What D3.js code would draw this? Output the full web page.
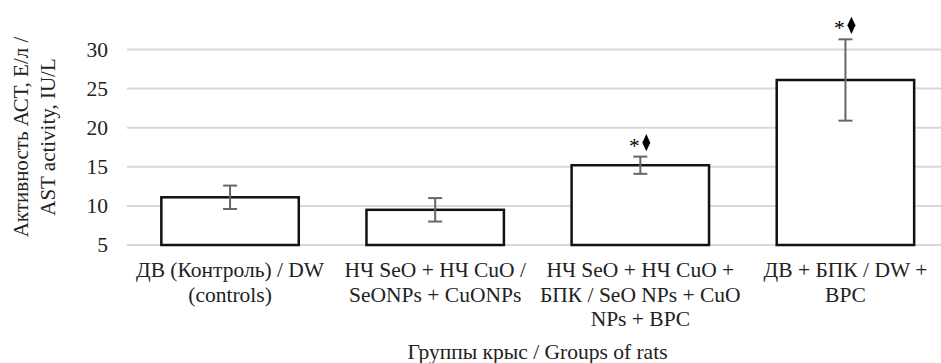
<!DOCTYPE html>
<html>
<head>
<meta charset="utf-8">
<script src="https://cdn.jsdelivr.net/npm/d3@7/dist/d3.min.js"></script>
</head>
<body style="margin:0;background:#fff">
<svg id="chart" width="941" height="363"></svg>
<script>
// groups of rats, mean AST activity and error (+/-)
const groups = ['dw', 'np', 'npbpc', 'bpc'];
const groupLabels = [
  ['ДВ (Контроль) / DW', '(controls)'],
  ['НЧ SeO + НЧ CuO /', 'SeONPs + CuONPs'],
  ['НЧ SeO + НЧ CuO +', 'БПК / SeO NPs + CuO', 'NPs + BPC'],
  ['ДВ + БПК / DW +', 'BPC']
];
const values = [11.1, 9.5, 15.2, 26.1];
const errors = [1.5, 1.5, 1.1, 5.2];
const significant = [false, false, true, true];
const yTicks = [5, 10, 15, 20, 25, 30];

const svg = d3.select('#chart');
const textColor = '#222';

const x = d3.scaleBand().domain(groups).range([127.5, 948]).paddingInner(0.33).paddingOuter(0.165);
const y = d3.scaleLinear().domain([5, 30]).range([245, 49.5]);
const mid = g => x(g) + x.bandwidth() / 2;

function label(sel, size) {
  return sel.attr('font-family', 'Liberation Serif')
      .attr('font-size', size || 21.5)
      .attr('fill', textColor);
}

// gridlines
svg.append('g')
    .selectAll('line')
    .data(yTicks)
    .join('line')
    .attr('x1', 127).attr('x2', 941)
    .attr('y1', d => y(d)).attr('y2', d => y(d))
    .attr('stroke', '#d9d9d9')
    .attr('stroke-width', 2);

// y tick labels
svg.append('g')
    .selectAll('text')
    .data(yTicks)
    .join('text')
    .attr('x', 108)
    .attr('y', d => y(d) + 7)
    .attr('text-anchor', 'end')
    .call(label)
    .text(d => d);

// bars
svg.append('g')
    .selectAll('rect')
    .data(groups)
    .join('rect')
    .attr('x', d => x(d))
    .attr('y', (d, i) => y(values[i]))
    .attr('width', x.bandwidth())
    .attr('height', (d, i) => y(5) - y(values[i]))
    .attr('fill', '#fff')
    .attr('stroke', '#111')
    .attr('stroke-width', 2.5);

// error bars
const err = svg.append('g')
    .attr('stroke', '#666')
    .attr('stroke-width', 2);
groups.forEach((g, i) => {
  const cx = mid(g);
  const hi = y(values[i] + errors[i]), lo = y(values[i] - errors[i]);
  err.append('line').attr('x1', cx).attr('x2', cx).attr('y1', hi).attr('y2', lo);
  err.append('line').attr('x1', cx - 7).attr('x2', cx + 7).attr('y1', hi).attr('y2', hi);
  err.append('line').attr('x1', cx - 7).attr('x2', cx + 7).attr('y1', lo).attr('y2', lo);
});

// significance marks: asterisk + diamond
const sig = svg.append('g');
groups.forEach((g, i) => {
  if (!significant[i]) return;
  const top = y(values[i] + errors[i]) - 14;
  sig.append('text')
      .attr('x', mid(g) - 6)
      .attr('y', top + 10)
      .attr('text-anchor', 'middle')
      .call(label)
      .attr('fill', '#000')
      .text('*');
  sig.append('path')
      .attr('transform', `translate(${mid(g) + 6},${top}) scale(1,1.25)`)
      .attr('d', d3.symbol(d3.symbolDiamond, 55)())
      .attr('fill', '#000');
});

// category labels
const cat = svg.append('g');
groups.forEach((g, i) => {
  const t = cat.append('text')
      .attr('x', mid(g))
      .attr('y', 277)
      .attr('text-anchor', 'middle')
      .call(label);
  groupLabels[i].forEach((line, j) => {
    t.append('tspan').attr('x', mid(g)).attr('dy', j ? 24.5 : 0).text(line);
  });
});

// axis titles
svg.append('text')
    .attr('x', 537.5).attr('y', 359)
    .attr('text-anchor', 'middle')
    .call(label)
    .text('Группы крыс / Groups of rats');

const yt = svg.append('text')
    .attr('transform', 'translate(0,137) rotate(-90)')
    .attr('text-anchor', 'middle')
    .call(label, 21);
yt.append('tspan').attr('x', 0).attr('y', 28).text('Активность АСТ, Е/л /');
yt.append('tspan').attr('x', 0).attr('y', 55).text('AST activity, IU/L');
</script>
</body>
</html>
